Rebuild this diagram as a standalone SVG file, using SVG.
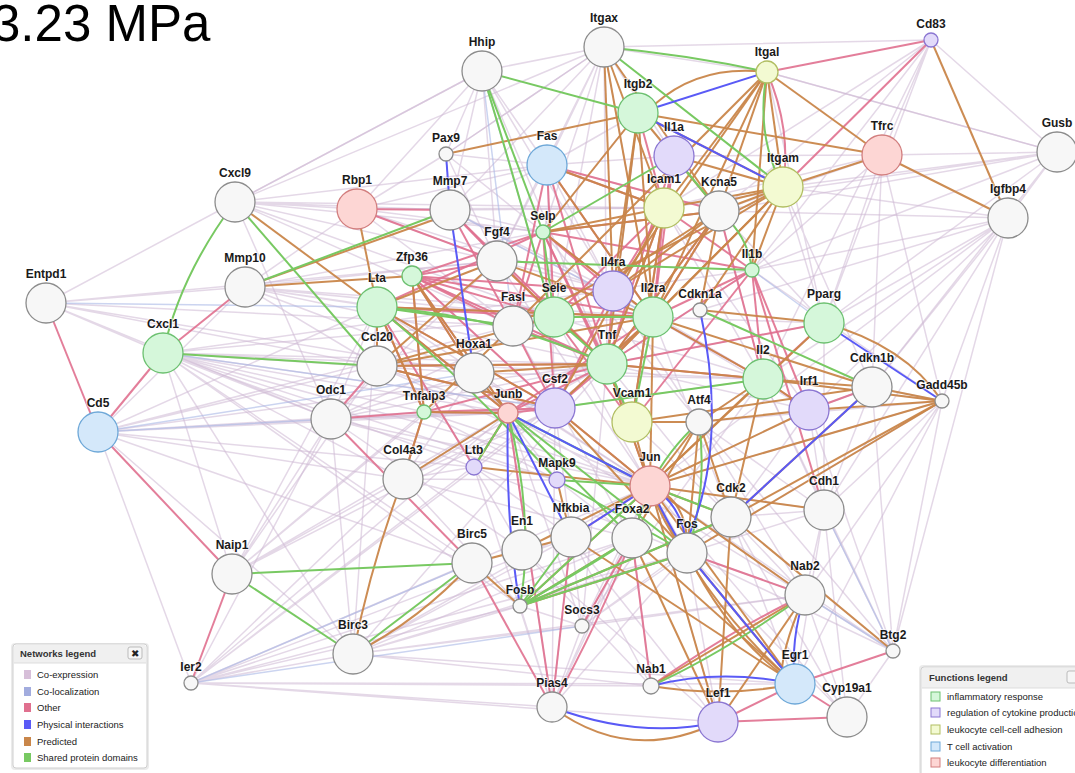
<svg xmlns="http://www.w3.org/2000/svg" width="1075" height="773" viewBox="0 0 1075 773">
<style>
.ce{stroke:#cdb8d4;stroke-width:1.5;opacity:.55;fill:none}
.cl{stroke:#a9b8e6;stroke-width:1.5;opacity:.6;fill:none}
.ot{stroke:#e0708f;stroke-width:2;fill:none;opacity:.9}
.ph{stroke:#5a5af6;stroke-width:2;fill:none}
.pr{stroke:#c9864a;stroke-width:2;fill:none;opacity:.95}
.sd{stroke:#78c962;stroke-width:2;fill:none}
.node circle{stroke-width:1.3}
.w{fill:#f7f7f7;stroke:#8c8c8c}
.g{fill:#d5f7da;stroke:#6cc070}
.p{fill:#e2dafa;stroke:#8b76d2}
.y{fill:#f3fad2;stroke:#b1be62}
.b{fill:#d4e8fa;stroke:#6ea8d8}
.k{fill:#fdd6d4;stroke:#d27e7e}
.node text{font-family:"Liberation Sans",Arial,sans-serif;font-weight:bold;font-size:12px;fill:#1a1a1a;text-anchor:middle;paint-order:stroke;stroke:#fff;stroke-width:2;stroke-opacity:.6}
.lg text{font-family:"Liberation Sans",Arial,sans-serif;font-size:9.5px;fill:#222}
.lg .t{font-weight:bold;fill:#333}
</style>
<rect width="1075" height="773" fill="#fff"/>
<text x="-8" y="41" font-family="Liberation Sans,Arial,sans-serif" font-size="51" fill="#000">3.23 MPa</text>
<g id="connectors">
<g id="coexpression">
<path class="ce" d="M46 303L235 202M46 303L163 353M46 303L377 366M46 303L474 373M46 303L331 419M46 303L497 261M46 303L245 287M46 303L513 326"/>
<path class="ce" d="M98 432L377 366M98 432L331 419M98 432L424 412M98 432L555 408M98 432L508 413M98 432L377 307M98 432L403 479M98 432L474 467M98 432L245 287M98 432L353 654M98 432L513 326M98 432L607 364M98 432L472 563"/>
<path class="ce" d="M163 353L607 364M163 353L555 408M163 353L508 413M163 353L474 467M163 353L331 419M163 353L472 563M163 353L520 606M163 353L650 486M163 353L763 379M163 353L232 574M163 353L353 654M163 353L752 270M163 353L474 373M163 353L554 317M163 353L424 412M163 353L403 479M163 353L557 480"/>
<path class="ce" d="M235 202L357 209M235 202L450 210M235 202L497 261M235 202L543 232M235 202L664 208M235 202L604 47M235 202L547 165M235 202L554 317M235 202L331 419M235 202L482 71M235 202L513 326"/>
<path class="ce" d="M191 683L353 654M191 683L472 563M191 683L520 606M191 683L650 486M191 683L687 553M191 683L571 537M191 683L795 684M191 683L651 686M191 683L403 479M191 683L607 364M191 683L508 413M191 683L555 408M191 683L552 707M191 683L718 722M191 683L98 432M191 683L331 419M191 683L632 538"/>
<path class="ce" d="M232 574L403 479M232 574L424 412M232 574L508 413M232 574L377 366M232 574L377 307M232 574L474 373M232 574L331 419M232 574L555 408"/>
<path class="ce" d="M353 654L331 419M353 654L687 553M353 654L650 486M353 654L582 626M353 654L520 606M353 654L651 686M353 654L795 684M353 654L377 307M353 654L607 364M353 654L571 537M353 654L632 538M353 654L805 595"/>
<path class="ce" d="M1057 152L1008 218M1057 152L783 187M1057 152L882 155M1057 152L752 270M1057 152L824 323M1057 152L664 208M1057 152L719 211M1057 152L767 72M1057 152L872 387"/>
<path class="ce" d="M1008 218L763 379M1008 218L824 323M1008 218L872 387M1008 218L752 270M1008 218L809 410M1008 218L719 211M1008 218L700 310M1008 218L650 486M1008 218L783 187M1008 218L942 401"/>
<path class="ce" d="M882 155L931 40M882 155L824 323M882 155L942 401M882 155L752 270M882 155L872 387M882 155L664 208M882 155L719 211M931 40L604 47M931 40L719 211M931 40L752 270M931 40L664 208M931 40L763 379M931 40L824 323M931 40L1057 152"/>
<path class="ce" d="M604 47L482 71M604 47L547 165M604 47L450 210M604 47L446 154M604 47L674 156M604 47L543 232M604 47L497 261M604 47L653 317M604 47L607 364M604 47L767 72M604 47L554 317"/>
<path class="ce" d="M482 71L547 165M482 71L450 210M482 71L446 154M482 71L497 261M482 71L357 209M482 71L613 291M482 71L607 364M482 71L235 202M446 154L357 209M446 154L547 165M446 154L543 232M446 154L604 47M446 154L497 261"/>
<path class="ce" d="M942 401L824 510M942 401L893 651M942 401L805 595M942 401L650 486M942 401L687 553M942 401L752 270M942 401L699 422M942 401L795 684M942 401L763 379"/>
<path class="ce" d="M893 651L824 510M893 651L731 517M893 651L650 486M893 651L687 553M893 651L763 379M893 651L809 410M893 651L699 422M893 651L872 387M893 651L805 595M893 651L1008 218"/>
<path class="ce" d="M824 510L824 323M824 510L763 379M824 510L809 410M824 510L872 387M824 510L699 422M824 510L650 486M824 510L731 517M824 510L687 553M824 510L805 595M824 510L795 684M824 510L847 717M824 510L1008 218"/>
<path class="ce" d="M847 717L805 595M847 717L731 517M847 717L893 651M847 717L687 553M847 717L650 486M718 722L650 486M718 722L687 553M718 722L571 537M718 722L522 550"/>
<path class="ce" d="M552 707L582 626M552 707L508 413M552 707L555 408M552 707L571 537M552 707L632 538M552 707L520 606M552 707L474 467M552 707L650 486M552 707L687 553"/>
<path class="ce" d="M582 626L650 486M582 626L687 553M582 626L632 538M582 626L571 537M582 626L520 606M582 626L555 408M582 626L763 379M582 626L508 413M582 626L607 364M582 626L805 595M582 626L731 517"/>
<path class="ce" d="M403 479L474 467M403 479L508 413M403 479L474 373M403 479L555 408M403 479L557 480M403 479L520 606M403 479L607 364M331 419L474 373M331 419L508 413M331 419L555 408M331 419L607 364M331 419L377 307M331 419L497 261M331 419L554 317M331 419L650 486M331 419L557 480"/>
<path class="ce" d="M245 287L377 366M245 287L513 326M245 287L474 373M245 287L377 307M245 287L497 261M245 287L554 317M245 287L607 364M245 287L653 317M245 287L357 209M245 287L543 232M357 209L543 232M357 209L497 261M357 209L513 326M357 209L547 165M357 209L613 291M357 209L664 208"/>
<path class="ce" d="M547 165L450 210M547 165L497 261M547 165L613 291M547 165L674 156M547 165L719 211M547 165L555 408M450 210L543 232M450 210L554 317M450 210L613 291M450 210L607 364M450 210L653 317M450 210L664 208M638 113L547 165M638 113L543 232M638 113L719 211M638 113L607 364M638 113L653 317"/>
<path class="ce" d="M719 211L613 291M752 270L607 364M699 422L763 379M763 379L650 486M809 410L650 486M809 410L731 517M872 387L731 517M824 323L653 317M824 323L607 364M763 379L555 408M632 422L731 517M731 517L805 595M699 422L805 595M650 486L805 595M687 553L805 595M731 517L795 684M632 538L651 686M571 537L651 686M522 550L651 686M557 480L632 538M474 467L571 537M474 467L522 550M424 412L557 480M474 373L557 480M474 373L650 486M377 366L555 408M377 366L508 413M412 276L555 408M377 307L474 467M497 261L613 291M513 326L653 317M554 317L763 379M613 291L763 379M653 317L809 410M607 364L809 410M664 208L763 379M719 211L824 323M783 187L824 323M783 187L872 387M767 72L824 323M767 72L1057 152M674 156L882 155"/>
<path class="ce" d="M412 276L607 364M377 307L650 486M377 366L650 486M424 412L650 486M497 261L650 486M513 326L632 538M554 317L687 553M607 364L731 517M653 317L731 517M664 208L809 410M719 211L763 379M613 291L699 422M543 232L699 422M474 373L763 379M331 419L522 550M403 479L632 538M474 467L687 553M508 413L805 595"/>
</g>
<g id="colocalization">
<path class="cl" d="M46 303L377 307M482 71L513 326M482 71L554 317M98 432L474 373M752 270L824 323M809 410L872 387M872 387L942 401M824 510L893 651M191 683L472 563M191 683L582 626M98 432L331 419M638 113L607 364M450 210L653 317M163 353L555 408M805 595L893 651"/>
</g>
<g id="other">
<path class="ot" d="M931 40L767 72"/><path class="ot" d="M931 40L783 187"/><path class="ot" d="M767 72Q792 130 783 187"/>
<path class="ot" d="M46 303L98 432"/><path class="ot" d="M98 432L163 353"/><path class="ot" d="M163 353L245 287"/><path class="ot" d="M98 432L232 574"/><path class="ot" d="M232 574L191 683"/>
<path class="ot" d="M357 209L450 210"/><path class="ot" d="M357 209L497 261"/>
<path class="ot" d="M331 419L377 366"/><path class="ot" d="M331 419L424 412"/><path class="ot" d="M331 419L472 563"/><path class="ot" d="M472 563L552 707"/>
<path class="ot" d="M687 553L805 595"/><path class="ot" d="M651 686Q740 625 805 595"/><path class="ot" d="M893 651L795 684"/><path class="ot" d="M795 684L847 717"/><path class="ot" d="M718 722L847 717"/><path class="ot" d="M718 722L795 684"/><path class="ot" d="M651 686L632 538"/>
<path class="ot" d="M752 270L763 379"/><path class="ot" d="M752 270L809 410"/><path class="ot" d="M752 270L824 510"/><path class="ot" d="M824 323L763 379"/><path class="ot" d="M824 323L607 364"/><path class="ot" d="M809 410L872 387"/><path class="ot" d="M809 410L763 379"/>
<path class="ot" d="M638 113L664 208"/><path class="ot" d="M674 156L664 208"/><path class="ot" d="M674 156L653 317"/><path class="ot" d="M674 156L607 364"/>
<path class="ot" d="M547 165L554 317"/><path class="ot" d="M547 165L607 364"/><path class="ot" d="M547 165L513 326"/><path class="ot" d="M547 165L653 317"/><path class="ot" d="M547 165L664 208"/><path class="ot" d="M547 165L719 211"/>
<path class="ot" d="M450 210L513 326"/><path class="ot" d="M450 210L554 317"/><path class="ot" d="M450 210L607 364"/>
<path class="ot" d="M412 276L497 261"/><path class="ot" d="M412 276L554 317"/><path class="ot" d="M412 276L607 364"/><path class="ot" d="M412 276L653 317"/><path class="ot" d="M412 276L555 408"/><path class="ot" d="M412 276L513 326"/><path class="ot" d="M412 276L543 232"/><path class="ot" d="M412 276L613 291"/><path class="ot" d="M412 276L508 413"/><path class="ot" d="M412 276L424 412"/><path class="ot" d="M412 276L474 373"/>
<path class="ot" d="M377 307L554 317"/><path class="ot" d="M377 307L653 317"/><path class="ot" d="M377 307L555 408"/><path class="ot" d="M377 307L543 232"/><path class="ot" d="M377 307L424 412"/><path class="ot" d="M377 307L474 467"/><path class="ot" d="M377 307L508 413"/>
<path class="ot" d="M543 232L607 364"/><path class="ot" d="M543 232L653 317"/><path class="ot" d="M543 232L632 422"/><path class="ot" d="M543 232L513 326"/><path class="ot" d="M543 232L613 291"/><path class="ot" d="M543 232L555 408"/><path class="ot" d="M543 232L719 211"/><path class="ot" d="M543 232L752 270"/>
<path class="ot" d="M607 364L653 317"/><path class="ot" d="M607 364L613 291"/><path class="ot" d="M607 364L555 408"/><path class="ot" d="M607 364L763 379"/><path class="ot" d="M607 364L513 326"/><path class="ot" d="M607 364L752 270"/><path class="ot" d="M607 364L664 208"/><path class="ot" d="M607 364L508 413"/><path class="ot" d="M607 364L424 412"/><path class="ot" d="M607 364L377 366"/><path class="ot" d="M607 364L650 486"/>
<path class="ot" d="M653 317L763 379"/><path class="ot" d="M653 317L555 408"/><path class="ot" d="M653 317L752 270"/><path class="ot" d="M653 317L664 208"/><path class="ot" d="M653 317L719 211"/><path class="ot" d="M653 317L508 413"/>
<path class="ot" d="M664 208L554 317"/><path class="ot" d="M664 208L632 422"/><path class="ot" d="M664 208L752 270"/><path class="ot" d="M664 208L613 291"/>
<path class="ot" d="M508 413L552 707"/><path class="ot" d="M508 413L555 408"/><path class="ot" d="M508 413L424 412"/><path class="ot" d="M508 413L474 467"/>
<path class="ot" d="M555 408L613 291"/><path class="ot" d="M555 408L650 486"/><path class="ot" d="M555 408L424 412"/><path class="ot" d="M555 408L377 366"/>
<path class="ot" d="M650 486L571 537"/><path class="ot" d="M650 486L632 538"/><path class="ot" d="M552 707L571 537"/><path class="ot" d="M552 707Q600 620 632 538"/><path class="ot" d="M582 626L632 538"/><path class="ot" d="M377 366L377 307"/><path class="ot" d="M424 412L403 479"/><path class="ot" d="M719 211L607 364"/><path class="ot" d="M719 211L763 379"/><path class="ot" d="M752 270L632 422"/><path class="ot" d="M513 326L554 317"/><path class="ot" d="M554 317L632 422"/><path class="ot" d="M513 326L555 408"/>
</g>
<g id="predicted">
<path class="pr" d="M446 154L638 113"/><path class="pr" d="M638 113L882 155"/><path class="pr" d="M767 72L882 155"/><path class="pr" d="M882 155L783 187"/><path class="pr" d="M882 155L1008 218"/><path class="pr" d="M931 40L1008 218"/><path class="pr" d="M767 72Q700 64 655 104"/>
<path class="pr" d="M767 72L664 208"/><path class="pr" d="M767 72L719 211"/><path class="pr" d="M767 72L653 317"/><path class="pr" d="M767 72L513 326"/><path class="pr" d="M767 72L613 291"/><path class="pr" d="M767 72L752 270"/><path class="pr" d="M767 72L783 187"/>
<path class="pr" d="M604 47L664 208"/><path class="pr" d="M604 47L719 211"/><path class="pr" d="M604 47L613 291"/><path class="pr" d="M604 47L653 317"/>
<path class="pr" d="M638 113L613 291"/><path class="pr" d="M638 113L653 317"/><path class="pr" d="M638 113L543 232"/><path class="pr" d="M638 113L607 364"/><path class="pr" d="M638 113L719 211"/><path class="pr" d="M638 113L783 187"/><path class="pr" d="M674 156L783 187"/>
<path class="pr" d="M783 187L719 211"/><path class="pr" d="M783 187L711 205"/><path class="pr" d="M783 187L664 208"/><path class="pr" d="M783 187L653 317"/><path class="pr" d="M783 187L752 270"/><path class="pr" d="M783 187L613 291"/><path class="pr" d="M783 187L607 364"/><path class="pr" d="M783 187L513 326"/><path class="pr" d="M783 187L700 310"/>
<path class="pr" d="M235 202L377 307"/><path class="pr" d="M245 287L450 214"/><path class="pr" d="M245 287L412 276"/><path class="pr" d="M357 209L377 307"/>
<path class="pr" d="M377 307L377 366"/><path class="pr" d="M377 307L508 413"/><path class="pr" d="M377 307L424 412"/><path class="pr" d="M377 307L555 408"/><path class="pr" d="M377 307L653 317"/><path class="pr" d="M377 307L497 261"/>
<path class="pr" d="M412 276L424 412"/><path class="pr" d="M412 276L508 413"/><path class="pr" d="M412 276L474 373"/>
<path class="pr" d="M377 366L497 261"/><path class="pr" d="M377 366L607 364"/><path class="pr" d="M377 366L653 317"/><path class="pr" d="M377 366L555 408"/><path class="pr" d="M377 366L554 317"/>
<path class="pr" d="M424 412L403 479"/><path class="pr" d="M424 412L508 413"/><path class="pr" d="M424 412L513 326"/><path class="pr" d="M403 479Q372 560 353 654"/><path class="pr" d="M403 479L508 413"/>
<path class="pr" d="M353 654Q420 620 472 563"/><path class="pr" d="M472 563L522 550"/><path class="pr" d="M472 563L520 606"/>
<path class="pr" d="M520 606L650 486"/><path class="pr" d="M520 606L632 538"/><path class="pr" d="M520 606L731 517"/><path class="pr" d="M520 606L687 553"/>
<path class="pr" d="M522 550L650 486"/><path class="pr" d="M522 550L571 537"/><path class="pr" d="M557 480L571 537"/><path class="pr" d="M474 467L650 486"/><path class="pr" d="M474 467L508 413"/>
<path class="pr" d="M650 486L795 684"/><path class="pr" d="M650 486Q700 600 795 684"/><path class="pr" d="M650 486L718 722"/><path class="pr" d="M650 486L632 538"/><path class="pr" d="M650 486Q690 500 687 553"/><path class="pr" d="M650 486Q665 530 687 553"/><path class="pr" d="M650 486L805 595"/><path class="pr" d="M650 486L731 517"/><path class="pr" d="M650 486L699 422"/><path class="pr" d="M650 486L763 379"/><path class="pr" d="M650 486L555 408"/><path class="pr" d="M650 486L632 422"/><path class="pr" d="M650 486L607 364"/><path class="pr" d="M650 486L653 317"/><path class="pr" d="M650 486L942 401"/><path class="pr" d="M650 486L824 323"/><path class="pr" d="M650 486L824 510"/>
<path class="pr" d="M632 538L718 722"/><path class="pr" d="M632 538L795 684"/><path class="pr" d="M687 553L795 684"/><path class="pr" d="M687 553Q730 640 795 684"/><path class="pr" d="M731 517L718 722"/><path class="pr" d="M731 517L893 651"/><path class="pr" d="M805 595L718 722"/><path class="pr" d="M805 595L651 686"/><path class="pr" d="M651 686Q725 698 795 684"/><path class="pr" d="M552 707Q630 765 718 722"/><path class="pr" d="M571 537L795 684"/><path class="pr" d="M805 595Q785 640 782 668"/>
<path class="pr" d="M731 517L699 422"/><path class="pr" d="M731 517L763 379"/><path class="pr" d="M731 517L942 401"/><path class="pr" d="M731 517L872 387"/>
<path class="pr" d="M942 401L872 387"/><path class="pr" d="M942 401L809 410"/><path class="pr" d="M942 401L763 379"/><path class="pr" d="M942 401L687 553"/><path class="pr" d="M824 323Q905 345 942 401"/><path class="pr" d="M824 323L700 310"/><path class="pr" d="M653 317L872 387"/>
<path class="pr" d="M763 379L872 387"/><path class="pr" d="M763 379L809 410"/><path class="pr" d="M809 410L699 422"/><path class="pr" d="M809 410L650 486"/><path class="pr" d="M763 379L607 364"/><path class="pr" d="M763 379L653 317"/><path class="pr" d="M763 379L699 422"/>
<path class="pr" d="M719 211L653 317"/><path class="pr" d="M719 211L607 364"/><path class="pr" d="M719 211L554 317"/><path class="pr" d="M719 211L613 291"/><path class="pr" d="M719 211L700 310"/>
<path class="pr" d="M664 208L543 232"/><path class="pr" d="M664 208L607 364"/><path class="pr" d="M664 208L555 408"/><path class="pr" d="M664 208L632 422"/><path class="pr" d="M547 165L664 208"/><path class="pr" d="M547 165L653 317"/>
<path class="pr" d="M543 232L653 317"/><path class="pr" d="M543 232L719 211"/><path class="pr" d="M497 261L607 364"/><path class="pr" d="M497 261L653 317"/><path class="pr" d="M474 373L607 364"/><path class="pr" d="M474 373L508 413"/>
<path class="pr" d="M555 408L653 317"/><path class="pr" d="M555 408L687 553"/><path class="pr" d="M632 422L699 422"/><path class="pr" d="M632 422L872 387"/><path class="pr" d="M699 422L632 538"/><path class="pr" d="M699 422L687 553"/>
</g>
<g id="shared-domains">
<path class="sd" d="M604 47Q690 55 767 72"/><path class="sd" d="M604 47L783 187"/><path class="sd" d="M482 71L638 113"/><path class="sd" d="M482 71L543 232"/><path class="sd" d="M482 71Q515 180 548 300"/><path class="sd" d="M767 72Q755 135 783 187"/>
<path class="sd" d="M674 156L543 232"/><path class="sd" d="M674 156L719 211"/><path class="sd" d="M719 211Q748 235 752 270"/>
<path class="sd" d="M235 202Q180 275 163 353"/><path class="sd" d="M235 202L377 366"/><path class="sd" d="M245 287L450 210"/><path class="sd" d="M163 353L377 366"/>
<path class="sd" d="M377 307L513 326"/><path class="sd" d="M377 307Q500 315 607 364"/><path class="sd" d="M377 307Q455 370 557 480"/>
<path class="sd" d="M543 232L554 317"/><path class="sd" d="M497 261L752 270"/><path class="sd" d="M554 317L653 317"/><path class="sd" d="M554 317L607 364"/><path class="sd" d="M607 364L632 422"/><path class="sd" d="M555 408L763 379"/><path class="sd" d="M700 310L872 387"/><path class="sd" d="M653 317L632 422"/>
<path class="sd" d="M508 413L474 467"/><path class="sd" d="M508 413L650 486"/><path class="sd" d="M508 413L687 553"/><path class="sd" d="M508 413L632 538"/><path class="sd" d="M508 413Q535 520 520 606"/>
<path class="sd" d="M520 606L650 486"/><path class="sd" d="M520 606L632 538"/><path class="sd" d="M520 606L687 553"/><path class="sd" d="M520 606L571 537"/><path class="sd" d="M520 606L731 517"/><path class="sd" d="M520 606Q600 560 632 538"/>
<path class="sd" d="M699 422Q668 450 650 486"/><path class="sd" d="M699 422Q708 490 687 553"/><path class="sd" d="M650 486L731 517"/><path class="sd" d="M650 486L557 480"/><path class="sd" d="M557 480L687 553"/><path class="sd" d="M650 486L632 538"/>
<path class="sd" d="M232 574L472 563"/><path class="sd" d="M232 574L353 654"/><path class="sd" d="M353 654L472 563"/><path class="sd" d="M805 595Q720 655 651 686"/>
</g>
<g id="physical">
<path class="ph" d="M446 154L450 210"/><path class="ph" d="M767 72L638 113"/><path class="ph" d="M638 113L783 187"/><path class="ph" d="M450 210L474 373"/>
<path class="ph" d="M508 413Q505 520 520 606"/><path class="ph" d="M508 413L650 486"/><path class="ph" d="M508 413L571 537"/><path class="ph" d="M571 537L650 486"/>
<path class="ph" d="M650 486Q685 505 687 553"/><path class="ph" d="M650 486Q668 525 687 553"/><path class="ph" d="M687 553L795 684"/><path class="ph" d="M700 310Q728 440 690 533"/>
<path class="ph" d="M872 387L731 517"/><path class="ph" d="M824 323L942 401"/><path class="ph" d="M805 595Q790 640 795 684"/><path class="ph" d="M651 686Q720 668 795 684"/><path class="ph" d="M552 707Q640 740 718 722"/>
</g>
</g>
<g id="nodes">
<g id="n-Itgax" class="node"><circle class="w" cx="604" cy="47" r="20"/><text x="604" y="22">Itgax</text></g>
<g id="n-Cd83" class="node"><circle class="p" cx="931" cy="40" r="7"/><text x="931" y="28">Cd83</text></g>
<g id="n-Hhip" class="node"><circle class="w" cx="482" cy="71" r="20"/><text x="482" y="46">Hhip</text></g>
<g id="n-Itgal" class="node"><circle class="y" cx="767" cy="72" r="11"/><text x="767" y="56">Itgal</text></g>
<g id="n-Itgb2" class="node"><circle class="g" cx="638" cy="113" r="20"/><text x="638" y="88">Itgb2</text></g>
<g id="n-Gusb" class="node"><circle class="w" cx="1057" cy="152" r="20"/><text x="1057" y="127">Gusb</text></g>
<g id="n-Pax9" class="node"><circle class="w" cx="446" cy="154" r="7"/><text x="446" y="142">Pax9</text></g>
<g id="n-Il1a" class="node"><circle class="p" cx="674" cy="156" r="20"/><text x="674" y="131">Il1a</text></g>
<g id="n-Tfrc" class="node"><circle class="k" cx="882" cy="155" r="20"/><text x="882" y="130">Tfrc</text></g>
<g id="n-Fas" class="node"><circle class="b" cx="547" cy="165" r="20"/><text x="547" y="140">Fas</text></g>
<g id="n-Itgam" class="node"><circle class="y" cx="783" cy="187" r="20"/><text x="783" y="162">Itgam</text></g>
<g id="n-Cxcl9" class="node"><circle class="w" cx="235" cy="202" r="20"/><text x="235" y="177">Cxcl9</text></g>
<g id="n-Rbp1" class="node"><circle class="k" cx="357" cy="209" r="20"/><text x="357" y="184">Rbp1</text></g>
<g id="n-Mmp7" class="node"><circle class="w" cx="450" cy="210" r="20"/><text x="450" y="185">Mmp7</text></g>
<g id="n-Icam1" class="node"><circle class="y" cx="664" cy="208" r="20"/><text x="664" y="183">Icam1</text></g>
<g id="n-Kcna5" class="node"><circle class="w" cx="719" cy="211" r="20"/><text x="719" y="186">Kcna5</text></g>
<g id="n-Igfbp4" class="node"><circle class="w" cx="1008" cy="218" r="20"/><text x="1008" y="193">Igfbp4</text></g>
<g id="n-Selp" class="node"><circle class="g" cx="543" cy="232" r="7"/><text x="543" y="220">Selp</text></g>
<g id="n-Fgf4" class="node"><circle class="w" cx="497" cy="261" r="20"/><text x="497" y="236">Fgf4</text></g>
<g id="n-Zfp36" class="node"><circle class="g" cx="412" cy="276" r="10"/><text x="412" y="261">Zfp36</text></g>
<g id="n-Il1b" class="node"><circle class="g" cx="752" cy="270" r="7"/><text x="752" y="258">Il1b</text></g>
<g id="n-Mmp10" class="node"><circle class="w" cx="245" cy="287" r="20"/><text x="245" y="262">Mmp10</text></g>
<g id="n-Entpd1" class="node"><circle class="w" cx="46" cy="303" r="20"/><text x="46" y="278">Entpd1</text></g>
<g id="n-Lta" class="node"><circle class="g" cx="377" cy="307" r="20"/><text x="377" y="282">Lta</text></g>
<g id="n-Il4ra" class="node"><circle class="p" cx="613" cy="291" r="20"/><text x="613" y="266">Il4ra</text></g>
<g id="n-Sele" class="node"><circle class="g" cx="554" cy="317" r="20"/><text x="554" y="292">Sele</text></g>
<g id="n-Fasl" class="node"><circle class="w" cx="513" cy="326" r="20"/><text x="513" y="301">Fasl</text></g>
<g id="n-Il2ra" class="node"><circle class="g" cx="653" cy="317" r="20"/><text x="653" y="292">Il2ra</text></g>
<g id="n-Cdkn1a" class="node"><circle class="w" cx="700" cy="310" r="7"/><text x="700" y="298">Cdkn1a</text></g>
<g id="n-Pparg" class="node"><circle class="g" cx="824" cy="323" r="20"/><text x="824" y="298">Pparg</text></g>
<g id="n-Cxcl1" class="node"><circle class="g" cx="163" cy="353" r="20"/><text x="163" y="328">Cxcl1</text></g>
<g id="n-Ccl20" class="node"><circle class="w" cx="377" cy="366" r="20"/><text x="377" y="341">Ccl20</text></g>
<g id="n-Hoxa1" class="node"><circle class="w" cx="474" cy="373" r="20"/><text x="474" y="348">Hoxa1</text></g>
<g id="n-Tnf" class="node"><circle class="g" cx="607" cy="364" r="20"/><text x="607" y="339">Tnf</text></g>
<g id="n-Il2" class="node"><circle class="g" cx="763" cy="379" r="20"/><text x="763" y="354">Il2</text></g>
<g id="n-Cdkn1b" class="node"><circle class="w" cx="872" cy="387" r="20"/><text x="872" y="362">Cdkn1b</text></g>
<g id="n-Gadd45b" class="node"><circle class="w" cx="942" cy="401" r="7"/><text x="942" y="389">Gadd45b</text></g>
<g id="n-Odc1" class="node"><circle class="w" cx="331" cy="419" r="20"/><text x="331" y="394">Odc1</text></g>
<g id="n-Tnfaip3" class="node"><circle class="g" cx="424" cy="412" r="7"/><text x="424" y="400">Tnfaip3</text></g>
<g id="n-Junb" class="node"><circle class="k" cx="508" cy="413" r="10"/><text x="508" y="398">Junb</text></g>
<g id="n-Csf2" class="node"><circle class="p" cx="555" cy="408" r="20"/><text x="555" y="383">Csf2</text></g>
<g id="n-Vcam1" class="node"><circle class="y" cx="632" cy="422" r="20"/><text x="632" y="397">Vcam1</text></g>
<g id="n-Atf4" class="node"><circle class="w" cx="699" cy="422" r="13"/><text x="699" y="404">Atf4</text></g>
<g id="n-Irf1" class="node"><circle class="p" cx="809" cy="410" r="20"/><text x="809" y="385">Irf1</text></g>
<g id="n-Cd5" class="node"><circle class="b" cx="98" cy="432" r="20"/><text x="98" y="407">Cd5</text></g>
<g id="n-Col4a3" class="node"><circle class="w" cx="403" cy="479" r="20"/><text x="403" y="454">Col4a3</text></g>
<g id="n-Ltb" class="node"><circle class="p" cx="474" cy="467" r="8"/><text x="474" y="454">Ltb</text></g>
<g id="n-Mapk9" class="node"><circle class="p" cx="557" cy="480" r="8"/><text x="557" y="467">Mapk9</text></g>
<g id="n-Jun" class="node"><circle class="k" cx="650" cy="486" r="20"/><text x="650" y="461">Jun</text></g>
<g id="n-Cdh1" class="node"><circle class="w" cx="824" cy="510" r="20"/><text x="824" y="485">Cdh1</text></g>
<g id="n-Cdk2" class="node"><circle class="w" cx="731" cy="517" r="20"/><text x="731" y="492">Cdk2</text></g>
<g id="n-En1" class="node"><circle class="w" cx="522" cy="550" r="20"/><text x="522" y="525">En1</text></g>
<g id="n-Nfkbia" class="node"><circle class="w" cx="571" cy="537" r="20"/><text x="571" y="512">Nfkbia</text></g>
<g id="n-Foxa2" class="node"><circle class="w" cx="632" cy="538" r="20"/><text x="632" y="513">Foxa2</text></g>
<g id="n-Fos" class="node"><circle class="w" cx="687" cy="553" r="20"/><text x="687" y="528">Fos</text></g>
<g id="n-Birc5" class="node"><circle class="w" cx="472" cy="563" r="20"/><text x="472" y="538">Birc5</text></g>
<g id="n-Naip1" class="node"><circle class="w" cx="232" cy="574" r="20"/><text x="232" y="549">Naip1</text></g>
<g id="n-Fosb" class="node"><circle class="w" cx="520" cy="606" r="7"/><text x="520" y="594">Fosb</text></g>
<g id="n-Nab2" class="node"><circle class="w" cx="805" cy="595" r="20"/><text x="805" y="570">Nab2</text></g>
<g id="n-Socs3" class="node"><circle class="w" cx="582" cy="626" r="7"/><text x="582" y="614">Socs3</text></g>
<g id="n-Birc3" class="node"><circle class="w" cx="353" cy="654" r="20"/><text x="353" y="629">Birc3</text></g>
<g id="n-Btg2" class="node"><circle class="w" cx="893" cy="651" r="7"/><text x="893" y="639">Btg2</text></g>
<g id="n-Egr1" class="node"><circle class="b" cx="795" cy="684" r="20"/><text x="795" y="659">Egr1</text></g>
<g id="n-Ier2" class="node"><circle class="w" cx="191" cy="683" r="7"/><text x="191" y="671">Ier2</text></g>
<g id="n-Nab1" class="node"><circle class="w" cx="651" cy="686" r="8"/><text x="651" y="673">Nab1</text></g>
<g id="n-Cyp19a1" class="node"><circle class="w" cx="847" cy="717" r="20"/><text x="847" y="692">Cyp19a1</text></g>
<g id="n-Pias4" class="node"><circle class="w" cx="552" cy="707" r="15"/><text x="552" y="687">Pias4</text></g>
<g id="n-Lef1" class="node"><circle class="p" cx="718" cy="722" r="20"/><text x="718" y="697">Lef1</text></g>
</g>
<g id="networks-legend" class="lg">
<rect x="11" y="643" width="138" height="127" rx="4" fill="#000" opacity=".08"/>
<rect x="13" y="644" width="134" height="124" rx="3" fill="#fff" stroke="#cfcfcf"/>
<path d="M14 663H146V647a2 2 0 0 0-2-2H16a2 2 0 0 0-2 2Z" fill="#f0f0f0"/>
<line x1="14" y1="663" x2="146" y2="663" stroke="#ddd"/>
<text class="t" x="20" y="657">Networks legend</text>
<rect x="128" y="647" width="14" height="12" rx="2" fill="#f6f6f6" stroke="#bbb"/>
<text x="135" y="656.5" font-size="8" text-anchor="middle" fill="#444">✖</text>
<rect x="24" y="670" width="7" height="9" fill="#d7bfd9"/><text x="37" y="678">Co-expression</text>
<rect x="24" y="687" width="7" height="9" fill="#a2acde"/><text x="37" y="695">Co-localization</text>
<rect x="24" y="703" width="7" height="9" fill="#e0708f"/><text x="37" y="711">Other</text>
<rect x="24" y="720" width="7" height="9" fill="#5a5af6"/><text x="37" y="728">Physical interactions</text>
<rect x="24" y="737" width="7" height="9" fill="#c9864a"/><text x="37" y="745">Predicted</text>
<rect x="24" y="753" width="7" height="9" fill="#78c962"/><text x="37" y="761">Shared protein domains</text>
</g>
<g id="functions-legend" class="lg">
<rect x="919" y="665" width="160" height="110" rx="4" fill="#000" opacity=".08"/>
<rect x="921" y="667" width="158" height="110" rx="3" fill="#fff" stroke="#cfcfcf"/>
<rect x="922" y="668" width="156" height="20" fill="#f0f0f0"/>
<line x1="922" y1="688" x2="1078" y2="688" stroke="#ddd"/>
<text class="t" x="929" y="681">Functions legend</text>
<rect x="1067" y="671" width="14" height="12" rx="2" fill="#f6f6f6" stroke="#bbb"/>
<rect x="931" y="692" width="9" height="9" class="g" stroke-width="1"/><text x="947" y="700">inflammatory response</text>
<rect x="931" y="708" width="9" height="9" class="p" stroke-width="1"/><text x="947" y="716">regulation of cytokine production</text>
<rect x="931" y="725" width="9" height="9" class="y" stroke-width="1"/><text x="947" y="733">leukocyte cell-cell adhesion</text>
<rect x="931" y="742" width="9" height="9" class="b" stroke-width="1"/><text x="947" y="750">T cell activation</text>
<rect x="931" y="758" width="9" height="9" class="k" stroke-width="1"/><text x="947" y="766">leukocyte differentiation</text>
</g>
</svg>
